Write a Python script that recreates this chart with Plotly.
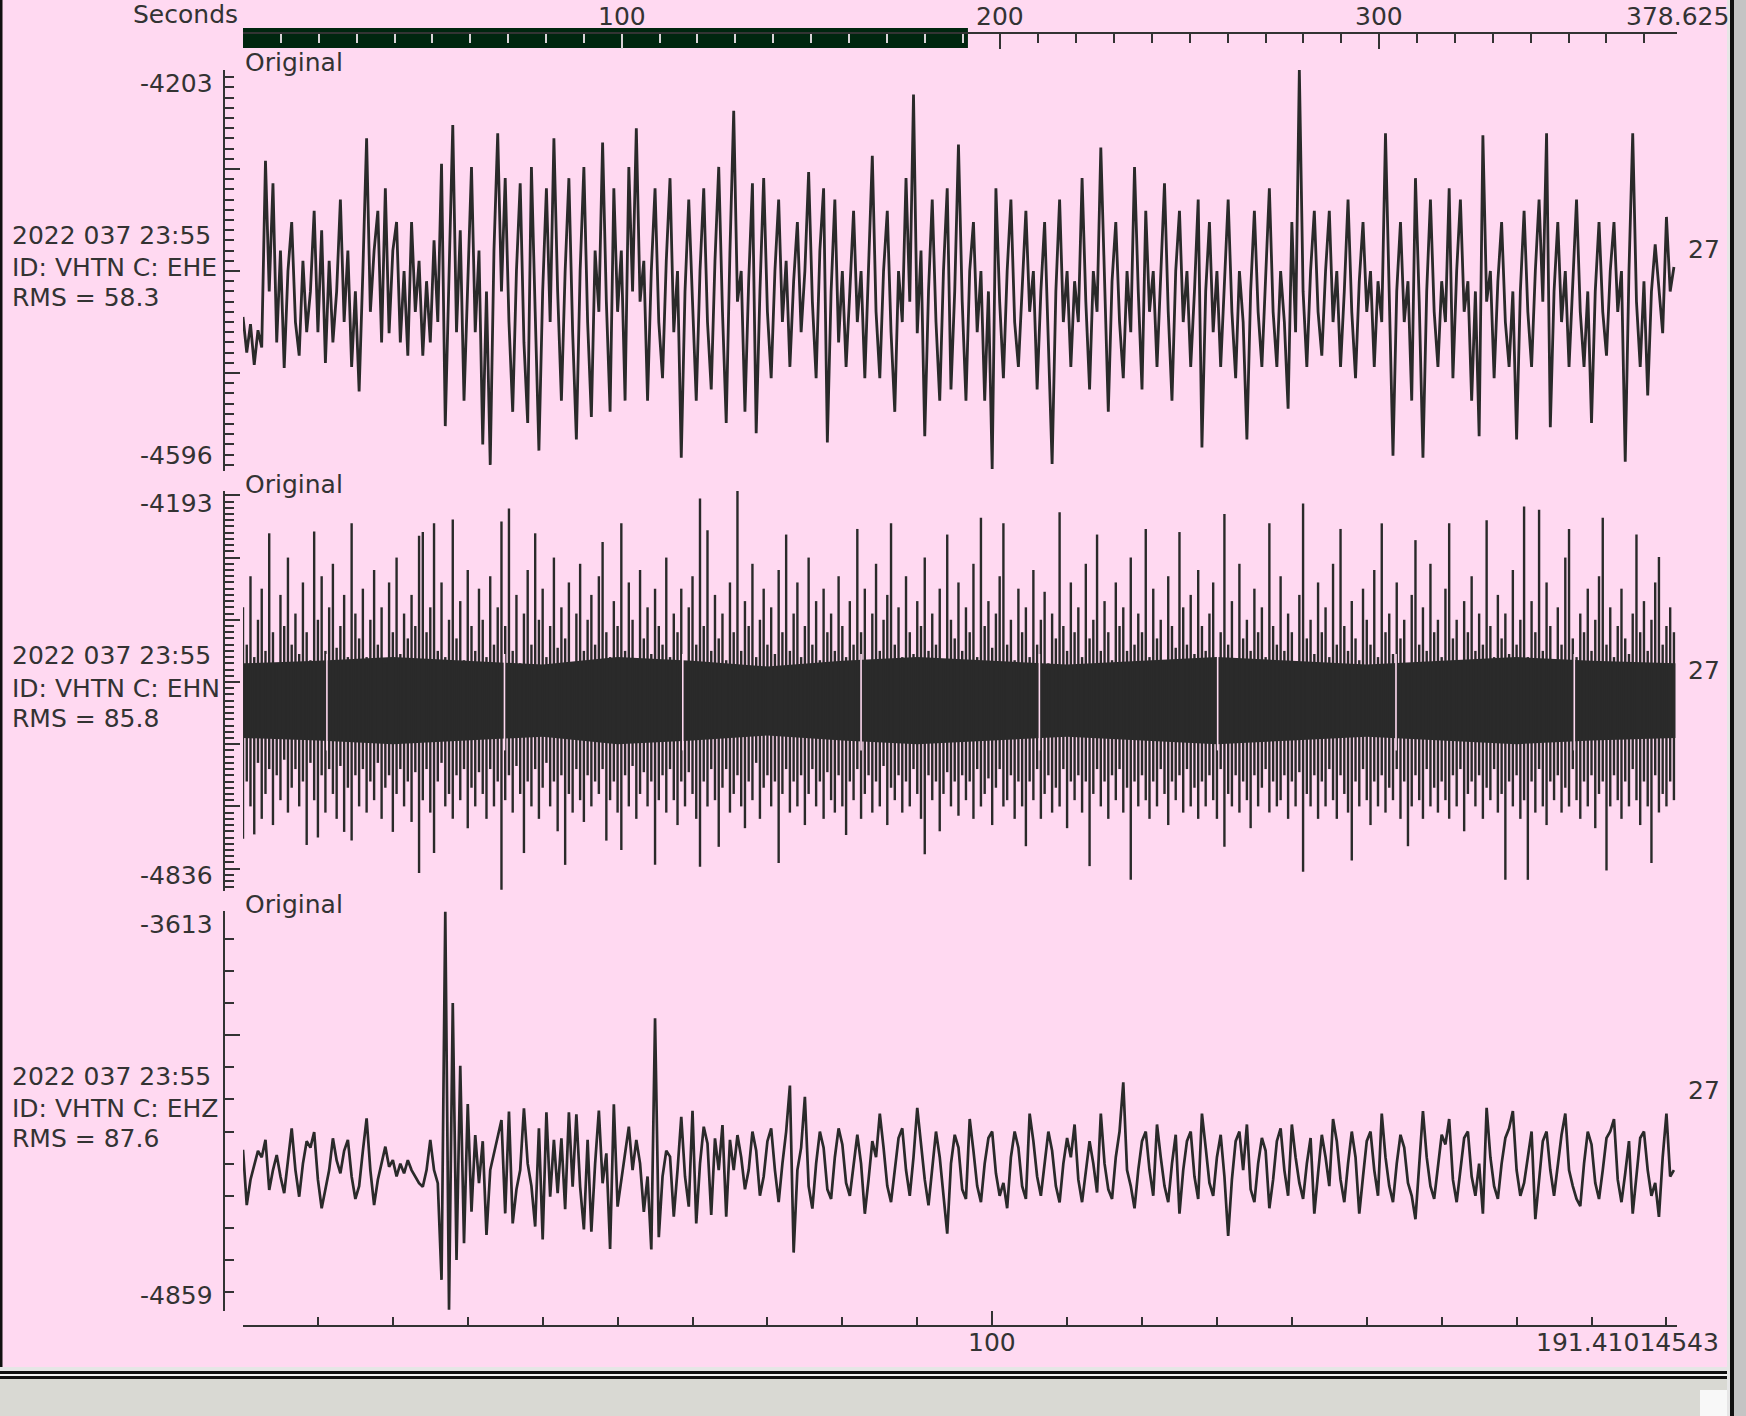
import numpy as np
import plotly.graph_objects as go

# ------------------------------------------------------------------ data
station_time = "2022 037 23:55"
station_id = "VHTN"
channels = ["EHE", "EHN", "EHZ"]
rms_values = [58.3, 85.8, 87.6]
y_ranges = [(-4596, -4203), (-4836, -4193), (-4859, -3613)]
y_major = [
    [-4596, -4500, -4400, -4300, -4203],
    [-4836, -4800, -4700, -4600, -4500, -4400, -4300, -4200, -4193],
    [-4859, -4000, -3613],
]
y_minor_step = [10, 10, 100]
right_label = "27"
view_start, view_end = 0.0, 191.41014543
total_seconds = 378.625
top_major = [0, 100, 200, 300, 378.625]
top_major_text = ["", "100", "200", "300", "378.625"]
bottom_labels = [100]
sample_dt = 0.5      # seconds between values of ehe / ehz
ehn_col_dt = 0.5     # seconds between ehn min/max columns

ehe = [
    -4445, -4480, -4452, -4492, -4458, -4475, -4292, -4420, -4314, -4470, -4380, -4495, -4400, -4352, -4450, -4483, -4390, -4460, -4420, -4341,
    -4460, -4360, -4490, -4390, -4470, -4420, -4330, -4450, -4380, -4494, -4420, -4518, -4400, -4270, -4440, -4380, -4341, -4470, -4319, -4461,
    -4380, -4352, -4470, -4400, -4483, -4352, -4440, -4390, -4483, -4410, -4470, -4370, -4450, -4295, -4552, -4400, -4257, -4460, -4360, -4527,
    -4420, -4298, -4460, -4380, -4570, -4420, -4590, -4380, -4265, -4420, -4309, -4450, -4538, -4400, -4314, -4470, -4549, -4298, -4440, -4576,
    -4420, -4319, -4450, -4270, -4420, -4527, -4400, -4309, -4460, -4565, -4400, -4298, -4450, -4543, -4380, -4440, -4274, -4430, -4538, -4319,
    -4440, -4380, -4527, -4298, -4420, -4260, -4430, -4390, -4527, -4400, -4319, -4450, -4505, -4390, -4309, -4460, -4400, -4583, -4420, -4330,
    -4430, -4527, -4400, -4319, -4450, -4516, -4390, -4298, -4440, -4549, -4380, -4243, -4430, -4400, -4538, -4410, -4314, -4559, -4420, -4309,
    -4440, -4505, -4400, -4330, -4450, -4390, -4494, -4410, -4352, -4460, -4400, -4303, -4430, -4505, -4380, -4319, -4568, -4420, -4330, -4470,
    -4400, -4494, -4420, -4341, -4450, -4400, -4505, -4390, -4287, -4440, -4505, -4400, -4341, -4460, -4538, -4400, -4450, -4309, -4430, -4227,
    -4461, -4380, -4562, -4420, -4330, -4450, -4527, -4400, -4319, -4516, -4420, -4276, -4430, -4527, -4400, -4352, -4460, -4400, -4527, -4420,
    -4594, -4319, -4430, -4505, -4400, -4330, -4450, -4494, -4410, -4341, -4440, -4400, -4516, -4420, -4352, -4460, -4589, -4420, -4330, -4450,
    -4400, -4494, -4410, -4450, -4309, -4430, -4516, -4400, -4440, -4279, -4420, -4538, -4410, -4352, -4450, -4505, -4400, -4460, -4298, -4420,
    -4516, -4341, -4440, -4400, -4494, -4410, -4314, -4440, -4527, -4400, -4341, -4450, -4400, -4494, -4420, -4330, -4573, -4420, -4352, -4460,
    -4400, -4494, -4410, -4330, -4440, -4505, -4400, -4450, -4565, -4420, -4341, -4440, -4494, -4400, -4319, -4440, -4494, -4400, -4450, -4535,
    -4352, -4460, -4203, -4420, -4494, -4400, -4341, -4440, -4483, -4400, -4341, -4450, -4400, -4494, -4420, -4330, -4440, -4505, -4410, -4352,
    -4440, -4400, -4494, -4410, -4450, -4265, -4420, -4581, -4420, -4352, -4450, -4410, -4527, -4309, -4430, -4583, -4420, -4330, -4440, -4494,
    -4410, -4450, -4319, -4505, -4400, -4330, -4440, -4410, -4527, -4420, -4562, -4267, -4430, -4400, -4505, -4410, -4352, -4450, -4494, -4420,
    -4565, -4420, -4341, -4440, -4494, -4400, -4330, -4430, -4265, -4553, -4420, -4352, -4450, -4400, -4494, -4410, -4330, -4440, -4494, -4420,
    -4549, -4420, -4352, -4440, -4483, -4400, -4352, -4440, -4400, -4587, -4400, -4265, -4430, -4494, -4410, -4522, -4420, -4374, -4420, -4461,
    -4347, -4420, -4396,
]

ehz = [
    -4357, -4529, -4450, -4400, -4360, -4380, -4326, -4482, -4420, -4373, -4440, -4492, -4380, -4290, -4420, -4503, -4400, -4330, -4350, -4302,
    -4450, -4539, -4480, -4420, -4321, -4390, -4430, -4360, -4326, -4440, -4510, -4470, -4360, -4259, -4420, -4529, -4450, -4400, -4347, -4410,
    -4389, -4440, -4400, -4430, -4389, -4420, -4440, -4461, -4472, -4420, -4326, -4420, -4461, -4762, -3615, -4855, -3900, -4700, -4095, -4648,
    -4214, -4550, -4311, -4461, -4330, -4622, -4420, -4368, -4306, -4264, -4555, -4238, -4586, -4480, -4420, -4228, -4400, -4470, -4596, -4290,
    -4636, -4240, -4503, -4326, -4492, -4321, -4542, -4240, -4472, -4246, -4472, -4605, -4326, -4612, -4400, -4235, -4461, -4368, -4666, -4215,
    -4534, -4451, -4380, -4285, -4420, -4326, -4399, -4550, -4440, -4667, -3947, -4629, -4440, -4360, -4378, -4565, -4420, -4254, -4440, -4534,
    -4235, -4586, -4400, -4285, -4337, -4560, -4321, -4420, -4280, -4565, -4326, -4420,
    -4311, -4380, -4480, -4420, -4300, -4360, -4500, -4440,
    -4330, -4290, -4420, -4520, -4400, -4300, -4157, -4677, -4420, -4350,
    -4192, -4470, -4540, -4400, -4300, -4350, -4480, -4510, -4380, -4290,
    -4340, -4460, -4500, -4400, -4310, -4400, -4556, -4450, -4330, -4380,
    -4244, -4350, -4470, -4520, -4420, -4320, -4290, -4420, -4500, -4380,
    -4226, -4330, -4450, -4530, -4420, -4300, -4380, -4500, -4618, -4400,
    -4310, -4350, -4480, -4510, -4261, -4360, -4470, -4520, -4400, -4320,
    -4300, -4430, -4500, -4460, -4539, -4380, -4300, -4350, -4470, -4510,
    -4244, -4330, -4440, -4500, -4400, -4300, -4360, -4470, -4521, -4400,
    -4320, -4380, -4278, -4450, -4520, -4430, -4330, -4400, -4490, -4244,
    -4400, -4480, -4510, -4380, -4300, -4147, -4420, -4470, -4539, -4420,
    -4330, -4300, -4420, -4500, -4278, -4380, -4470, -4520, -4400, -4310,
    -4556, -4420, -4330, -4300, -4440, -4510, -4244, -4350, -4460, -4500,
    -4380, -4310, -4440, -4625, -4450, -4330, -4300, -4420, -4278, -4480,
    -4520, -4400, -4320, -4360, -4539, -4450, -4330, -4290, -4420, -4500,
    -4278, -4380, -4460, -4510, -4400, -4320, -4556, -4430, -4310, -4380,
    -4470, -4261, -4330, -4450, -4520, -4400, -4300, -4380, -4556, -4440,
    -4330, -4300, -4420, -4500, -4244, -4380, -4470, -4520, -4400, -4310,
    -4350, -4460, -4500, -4573, -4400, -4236, -4380, -4470, -4510, -4400,
    -4310, -4340, -4261, -4450, -4520, -4420, -4320, -4300, -4440, -4500,
    -4400, -4556, -4226, -4380, -4470, -4510, -4400, -4320, -4290, -4236,
    -4420, -4500, -4460, -4380, -4300, -4573, -4440, -4330, -4300, -4420,
    -4500, -4400, -4310, -4244, -4420, -4470, -4510, -4532, -4400, -4300,
    -4340, -4460, -4510, -4420, -4320, -4300, -4261, -4450, -4520, -4430,
    -4330, -4556, -4440, -4320, -4300, -4420, -4500, -4460, -4566, -4380,
    -4244, -4440, -4420,
]

ehn_max = [
    -4380, -4440, -4330, -4460, -4400, -4350, -4450, -4261, -4420, -4470, -4360, -4410, -4300, -4440, -4390, -4455,
    -4340, -4420, -4465, -4258, -4400, -4330, -4450, -4380, -4310, -4445, -4410, -4360, -4460, -4245, -4390, -4430,
    -4350, -4460, -4400, -4320, -4440, -4380, -4470, -4340, -4420, -4300, -4455, -4390, -4430, -4360, -4410, -4265,
    -4259, -4420, -4380, -4245, -4450, -4340, -4460, -4400, -4239, -4430, -4370, -4465, -4320, -4410, -4450, -4350,
    -4400, -4460, -4330, -4440, -4380, -4242, -4410, -4221, -4450, -4360, -4470, -4390, -4320, -4440, -4261, -4400,
    -4350, -4460, -4410, -4300, -4445, -4380, -4430, -4340, -4470, -4390, -4310, -4450, -4400, -4360, -4440, -4330,
    -4275, -4420, -4460, -4370, -4410, -4245, -4450, -4340, -4400, -4465, -4320, -4430, -4380, -4455, -4350, -4410,
    -4440, -4300, -4460, -4390, -4420, -4350, -4470, -4380, -4330, -4440, -4205, -4410, -4256, -4450, -4360, -4430,
    -4390, -4465, -4340, -4420, -4193, -4450, -4370, -4410, -4310, -4460, -4400, -4350, -4440, -4380, -4455, -4320,
    -4420, -4263, -4450, -4390, -4340, -4460, -4410, -4300, -4440, -4370, -4465, -4350, -4420, -4390, -4450, -4330,
    -4410, -4460, -4370, -4440, -4254, -4420, -4350, -4470, -4390, -4310, -4450, -4400, -4360, -4245, -4440, -4380,
    -4460, -4330, -4420, -4455, -4370, -4410, -4300, -4450, -4390, -4440, -4350, -4465, -4263, -4400, -4430, -4340,
    -4450, -4380, -4420, -4310, -4460, -4236, -4410, -4370, -4445, -4390, -4330, -4245, -4440, -4400, -4465, -4350,
    -4420, -4380, -4460, -4320, -4440, -4400, -4355, -4470, -4390, -4430, -4227, -4410, -4450, -4340, -4420, -4380,
    -4460, -4310, -4430, -4400, -4263, -4450, -4370, -4420, -4465, -4340, -4410, -4380, -4450, -4300, -4440, -4390,
    -4420, -4254, -4460, -4350, -4430, -4400, -4470, -4330, -4410, -4445, -4259, -4380, -4440, -4360, -4455, -4320,
    -4410, -4450, -4390, -4340, -4460, -4420, -4230, -4440, -4370, -4465, -4310, -4430, -4400, -4450, -4350, -4420,
    -4380, -4460, -4245, -4410, -4440, -4330, -4450, -4390, -4420, -4470, -4360, -4213, -4430, -4400, -4455, -4340,
    -4420, -4380, -4460, -4310, -4440, -4254, -4410, -4450, -4370, -4430, -4465, -4350, -4400, -4440, -4320, -4460,
    -4245, -4420, -4390, -4455, -4340, -4430, -4400, -4470, -4360, -4272, -4440, -4380, -4450, -4310, -4420, -4400,
    -4460, -4350, -4245, -4430, -4400, -4465, -4370, -4420, -4330, -4450, -4390, -4440, -4240, -4410, -4460, -4360,
    -4430, -4390, -4455, -4320, -4440, -4400, -4218, -4460, -4370, -4420, -4223, -4450, -4340, -4410, -4465, -4380,
    -4440, -4300, -4254, -4430, -4460, -4390, -4420, -4350, -4450, -4400, -4330, -4236, -4440, -4380, -4460, -4410,
    -4350, -4430, -4455, -4390, -4263, -4420, -4370, -4450, -4400, -4340, -4299, -4440, -4410, -4380, -4420,
]

ehn_min = [
    -4752, -4660, -4700, -4745, -4630, -4720, -4680, -4640, -4730, -4650, -4690, -4625, -4710, -4670, -4640, -4700,
    -4660, -4762, -4630, -4690, -4750, -4650, -4710, -4640, -4680, -4720, -4635, -4741, -4670, -4755, -4650, -4700,
    -4640, -4710, -4660, -4690, -4630, -4720, -4670, -4650, -4741, -4680, -4640, -4700, -4660, -4725, -4645, -4807,
    -4690, -4640, -4710, -4775, -4660, -4630, -4700, -4680, -4720, -4650, -4690, -4640, -4735, -4670, -4700, -4645,
    -4680, -4720, -4640, -4700, -4660, -4834, -4690, -4650, -4710, -4635, -4680, -4775, -4660, -4700, -4640, -4720,
    -4670, -4630, -4700, -4660, -4740, -4650, -4794, -4680, -4710, -4640, -4690, -4725, -4650, -4700, -4660, -4680,
    -4640, -4755, -4690, -4660, -4710, -4770, -4650, -4700, -4635, -4720, -4680, -4645, -4700, -4660, -4794, -4690,
    -4650, -4710, -4640, -4690, -4730, -4660, -4700, -4645, -4680, -4720, -4797, -4660, -4700, -4640, -4690, -4765,
    -4670, -4640, -4710, -4680, -4650, -4700, -4735, -4660, -4690, -4630, -4720, -4670, -4650, -4700, -4660, -4791,
    -4680, -4640, -4710, -4660, -4700, -4650, -4730, -4680, -4640, -4700, -4660, -4720, -4645, -4690, -4710, -4650,
    -4700, -4746, -4660, -4690, -4640, -4720, -4680, -4650, -4710, -4660, -4700, -4635, -4730, -4670, -4690, -4650,
    -4710, -4660, -4700, -4640, -4680, -4720, -4777, -4650, -4690, -4660, -4740, -4680, -4645, -4700, -4660, -4715,
    -4650, -4690, -4660, -4720, -4640, -4700, -4680, -4655, -4730, -4670, -4640, -4700, -4690, -4650, -4720, -4660,
    -4700, -4764, -4660, -4690, -4640, -4720, -4680, -4650, -4710, -4670, -4700, -4640, -4735, -4660, -4690, -4650,
    -4710, -4660, -4796, -4680, -4640, -4700, -4660, -4720, -4650, -4690, -4640, -4710, -4670, -4818, -4660, -4700,
    -4650, -4690, -4720, -4660, -4700, -4640, -4680, -4730, -4660, -4690, -4650, -4710, -4640, -4700, -4670, -4720,
    -4660, -4700, -4650, -4690, -4720, -4640, -4765, -4680, -4700, -4650, -4710, -4660, -4690, -4735, -4650, -4700,
    -4670, -4640, -4710, -4660, -4700, -4690, -4650, -4720, -4660, -4700, -4645, -4805, -4680, -4700, -4650, -4720,
    -4660, -4700, -4640, -4690, -4720, -4650, -4680, -4710, -4787, -4660, -4700, -4640, -4690, -4730, -4660, -4700,
    -4650, -4710, -4670, -4690, -4640, -4720, -4660, -4764, -4700, -4650, -4690, -4720, -4640, -4700, -4670, -4710,
    -4660, -4690, -4720, -4650, -4700, -4640, -4740, -4680, -4660, -4700, -4650, -4720, -4670, -4690, -4640, -4710,
    -4680, -4818, -4660, -4700, -4650, -4720, -4690, -4818, -4660, -4710, -4640, -4700, -4730, -4660, -4690, -4650,
    -4710, -4670, -4700, -4640, -4690, -4720, -4660, -4700, -4650, -4735, -4680, -4660, -4803, -4700, -4650, -4690,
    -4720, -4660, -4700, -4640, -4690, -4730, -4660, -4700, -4791, -4650, -4710, -4680, -4700, -4660, -4690,
]

ehn_core_t = [0, 10, 20, 30, 40, 50, 60, 70, 80, 90, 100, 110, 120, 130, 140, 150, 160, 170, 180, 190, 191.2]
ehn_core_hi = [-4470, -4466, -4460, -4466, -4472, -4460, -4466, -4475, -4466, -4460, -4466,
               -4472, -4466, -4460, -4466, -4472, -4466, -4460, -4466, -4470, -4470]
ehn_core_lo = [-4590, -4594, -4600, -4594, -4588, -4600, -4594, -4586, -4594, -4600, -4594,
               -4588, -4594, -4600, -4594, -4588, -4594, -4600, -4594, -4590, -4590]
ehn_gap_t = [11.2, 34.9, 58.7, 82.5, 106.3, 130.1, 153.9, 177.7]
ehn_gap_span = (-4455, -4610)

# ------------------------------------------------------------------ style
W, H = 1746, 1416
BG = "#ffd9f1"
INK = "#2a2a2a"
TXT = "#333333"
FONT = "DejaVu Sans"
FS = 25


def fx(px):
    return px / W


def fy(py):
    return 1 - py / H


X_DOM = [fx(243), fx(1677)]
panel_px = [(70, 471), (491, 891), (911, 1311)]
YAXIS_X = fx(224)

fig = go.Figure()

# EHE
t_ehe = np.arange(len(ehe)) * sample_dt
fig.add_trace(go.Scatter(x=t_ehe, y=ehe, mode="lines", line=dict(color=INK, width=2.8),
                         xaxis="x", yaxis="y", hoverinfo="skip", showlegend=False))

# EHN: solid core band + min/max columns + data gaps
fig.add_trace(go.Scatter(x=ehn_core_t, y=ehn_core_hi, mode="lines", line=dict(width=0, color=INK),
                         xaxis="x", yaxis="y2", hoverinfo="skip", showlegend=False))
fig.add_trace(go.Scatter(x=ehn_core_t, y=ehn_core_lo, mode="lines", line=dict(width=0, color=INK),
                         fill="tonexty", fillcolor=INK,
                         xaxis="x", yaxis="y2", hoverinfo="skip", showlegend=False))
t_cols = np.arange(len(ehn_max)) * ehn_col_dt
cx, cy = [], []
for t, hi, lo in zip(t_cols, ehn_max, ehn_min):
    cx += [t, t, None]
    cy += [hi, lo, None]
fig.add_trace(go.Scatter(x=cx, y=cy, mode="lines", line=dict(color=INK, width=2.4),
                         xaxis="x", yaxis="y2", hoverinfo="skip", showlegend=False))
gx, gy = [], []
for t in ehn_gap_t:
    gx += [t, t, None]
    gy += [ehn_gap_span[0], ehn_gap_span[1], None]
fig.add_trace(go.Scatter(x=gx, y=gy, mode="lines", line=dict(color=BG, width=1.6),
                         xaxis="x", yaxis="y2", hoverinfo="skip", showlegend=False))

# EHZ
t_ehz = np.arange(len(ehz)) * sample_dt
fig.add_trace(go.Scatter(x=t_ehz, y=ehz, mode="lines", line=dict(color=INK, width=2.7),
                         xaxis="x", yaxis="y3", hoverinfo="skip", showlegend=False))

# carriers for the two top (overview) axes
for ax in ("x2", "x3"):
    fig.add_trace(go.Scatter(x=[0, total_seconds], y=[None, None], mode="lines",
                             xaxis=ax, yaxis="y", hoverinfo="skip", showlegend=False))

axis_font = dict(family=FONT, size=FS, color=TXT)
layout = dict(
    template="none",
    width=W, height=H, autosize=False,
    margin=dict(l=0, r=0, t=0, b=0, pad=0, autoexpand=False),
    paper_bgcolor=BG, plot_bgcolor="rgba(0,0,0,0)",
    font=axis_font, showlegend=False,
)

# bottom time axis (visible window)
layout["xaxis"] = dict(
    domain=X_DOM, range=[view_start, view_end], anchor="free", position=fy(1326), automargin=False,
    showline=True, linecolor=TXT, linewidth=2, showgrid=False, zeroline=False,
    ticks="inside", ticklen=14, tickwidth=2, tickcolor=TXT, showticklabels=False,
    tickmode="array", tickvals=[view_start, 100, view_end], fixedrange=True,
    minor=dict(ticks="inside", ticklen=8, tickwidth=2, tickcolor=TXT, dtick=10, tick0=0, showgrid=False),
)
# top overview axis (whole record)
dark_minor = [v for v in range(200, 380, 10) if v % 100 != 0]
light_minor = [v for v in range(10, 191, 10) if v % 100 != 0]
layout["xaxis2"] = dict(
    domain=X_DOM, range=[0, total_seconds], overlaying="x", side="top", anchor="free", position=fy(33),
    automargin=False,
    showline=True, linecolor=TXT, linewidth=2, showgrid=False, zeroline=False,
    ticks="inside", ticklen=15, tickwidth=2, tickcolor=TXT, showticklabels=False,
    tickmode="array", tickvals=top_major, fixedrange=True,
    minor=dict(ticks="inside", ticklen=9, tickwidth=2, tickcolor=TXT, tickmode="array",
               tickvals=dark_minor, showgrid=False),
)
layout["xaxis3"] = dict(
    domain=X_DOM, range=[0, total_seconds], overlaying="x", side="top", anchor="free", position=fy(33),
    automargin=False,
    showline=False, showgrid=False, zeroline=False, showticklabels=False,
    ticks="inside", ticklen=15, tickwidth=2, tickcolor="#d9d2d6",
    tickmode="array", tickvals=[100], fixedrange=True,
    minor=dict(ticks="inside", ticklen=9, tickwidth=2, tickcolor="#d9d2d6", tickmode="array",
               tickvals=light_minor, showgrid=False),
)

for k, ((top, bot), yr, majors, mstep) in enumerate(zip(panel_px, y_ranges, y_major, y_minor_step)):
    name = "yaxis" if k == 0 else f"yaxis{k + 1}"
    layout[name] = dict(
        domain=[fy(bot), fy(top)], range=list(yr), anchor="free", position=YAXIS_X, automargin=False,
        showline=True, linecolor=TXT, linewidth=2, showgrid=False, zeroline=False,
        ticks="inside", ticklen=15, tickwidth=2, tickcolor=TXT,
        tickmode="array", tickvals=majors, showticklabels=False, fixedrange=True,
        minor=dict(ticks="inside", ticklen=9, tickwidth=2, tickcolor=TXT, dtick=mstep, tick0=0, showgrid=False),
    )

fig.update_layout(**layout)

# ------------------------------------------------------------------ text
ann = []


def text(s, x, y, xanchor="left", yanchor="middle", xref="paper", **kw):
    d = dict(text=s, x=x, y=y, xref=xref, yref="paper", xanchor=xanchor, yanchor=yanchor,
             showarrow=False, font=axis_font)
    d.update(kw)
    ann.append(d)


text("Seconds", fx(240), fy(14), xanchor="right")
for v, s in zip(top_major, top_major_text):
    if s:
        text(s, v, fy(16), xanchor="center", xref="x2")
for v in bottom_labels:
    text(str(v), v, fy(1342), xanchor="center", xref="x")
text(f"{view_end:.8f}", view_end, fy(1342), xanchor="right", xref="x", xshift=44)

for k, ((top, bot), yr) in enumerate(zip(panel_px, y_ranges)):
    mid = (top + bot) / 2
    text("Original", fx(243), fy(top - 7), xanchor="left")
    text(station_time, fx(10), fy(mid - 35), xanchor="left")
    text(f"ID: {station_id} C: {channels[k]}", fx(10), fy(mid - 3), xanchor="left")
    text(f"RMS = {rms_values[k]}", fx(10), fy(mid + 27), xanchor="left")
    text(str(yr[1]), fx(215), fy(top + 13), xanchor="right")
    text(str(yr[0]), fx(215), fy(bot - 16), xanchor="right")
    text(right_label, fx(1704), fy(mid - 21), xanchor="center")
fig.update_layout(annotations=ann)

# ------------------------------------------------------------------ shapes
shapes = [
    # overview bar: visible window inside the whole record
    dict(type="rect", xref="x2", yref="paper", x0=view_start, x1=view_end, y0=fy(48), y1=fy(28),
         fillcolor="#00260f", line=dict(width=0), layer="below"),
    # window chrome
    dict(type="rect", xref="paper", yref="paper", x0=0, x1=fx(2.5), y0=fy(1371), y1=1,
         fillcolor="#111111", line=dict(width=0)),
    dict(type="rect", xref="paper", yref="paper", x0=0, x1=fx(1730), y0=fy(1371), y1=fy(1367),
         fillcolor="#e6e6e6", line=dict(width=0)),
    dict(type="rect", xref="paper", yref="paper", x0=0, x1=fx(1730), y0=fy(1379), y1=fy(1371),
         fillcolor="#111111", line=dict(width=0)),
    dict(type="rect", xref="paper", yref="paper", x0=0, x1=fx(1730), y0=fy(1376), y1=fy(1374),
         fillcolor="#f2f2f2", line=dict(width=0)),
    dict(type="rect", xref="paper", yref="paper", x0=0, x1=fx(1730), y0=0, y1=fy(1379),
         fillcolor="#d9d9d3", line=dict(width=0)),
    dict(type="rect", xref="paper", yref="paper", x0=fx(1700), x1=fx(1730), y0=0, y1=fy(1390),
         fillcolor="#f8f8f8", line=dict(width=0)),
    dict(type="rect", xref="paper", yref="paper", x0=fx(1727), x1=fx(1730), y0=0, y1=1,
         fillcolor="#e6e6e6", line=dict(width=0)),
    dict(type="rect", xref="paper", yref="paper", x0=fx(1730), x1=fx(1734), y0=0, y1=1,
         fillcolor="#111111", line=dict(width=0)),
    dict(type="rect", xref="paper", yref="paper", x0=fx(1734), x1=1, y0=0, y1=1,
         fillcolor="#c4c4c4", line=dict(width=0)),
]
fig.update_layout(shapes=shapes)

fig.write_html("out.html", config={"displayModeBar": False, "staticPlot": True},
               post_script="document.body.style.margin='0';document.body.style.overflow='hidden';")
